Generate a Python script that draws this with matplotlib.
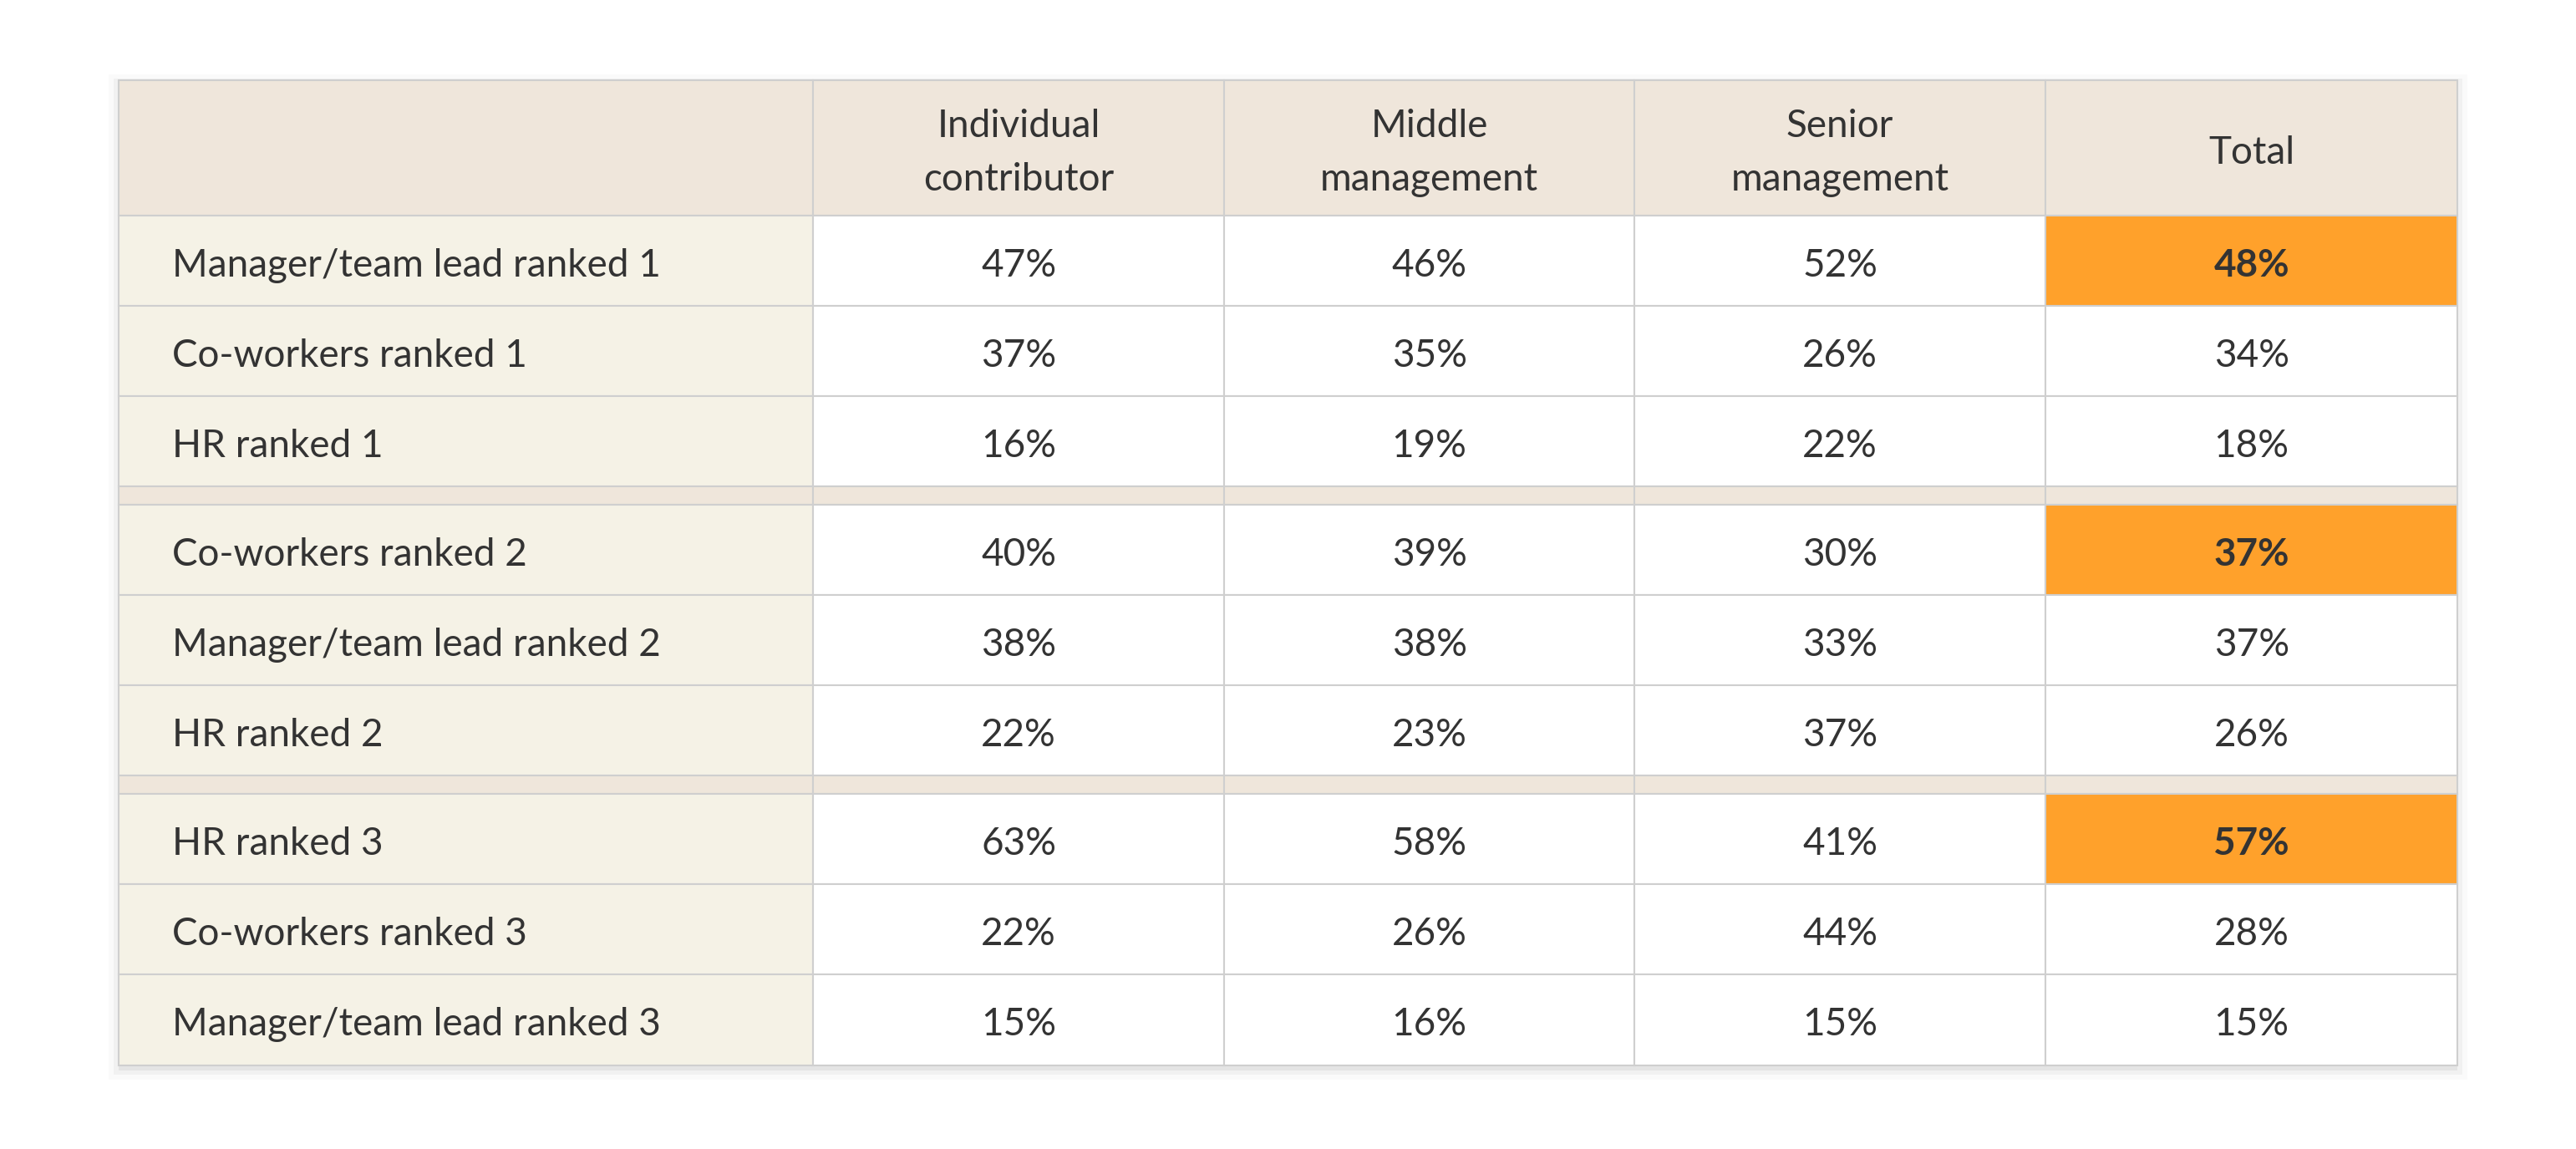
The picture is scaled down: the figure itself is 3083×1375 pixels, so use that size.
import matplotlib.pyplot as plt
from matplotlib.patches import Rectangle

columns = ['Individual\ncontributor', 'Middle\nmanagement', 'Senior\nmanagement', 'Total']
groups = [
    [('Manager/team lead ranked 1', [47, 46, 52, 48]),
     ('Co-workers ranked 1', [37, 35, 26, 34]),
     ('HR ranked 1', [16, 19, 22, 18])],
    [('Co-workers ranked 2', [40, 39, 30, 37]),
     ('Manager/team lead ranked 2', [38, 38, 33, 37]),
     ('HR ranked 2', [22, 23, 37, 26])],
    [('HR ranked 3', [63, 58, 41, 57]),
     ('Co-workers ranked 3', [22, 26, 44, 28]),
     ('Manager/team lead ranked 3', [15, 16, 15, 15])],
]

HEAD = '#EFE6DB'
LABEL_BG = '#F5F2E6'
ORANGE = '#FFA12B'
LINE = '#CFCFCF'
TXT = '#333333'
plt.rcParams['font.family'] = 'Lato'

fig = plt.figure(figsize=(30.83, 13.75), dpi=100)
ax = fig.add_axes([0, 0, 1, 1])
ax.set_xlim(0, 1568)
ax.set_ylim(699, 0)
ax.axis('off')

xs = [72, 495, 745, 995, 1245, 1496]
top, head_h, row_h, sep_h = 49, 82, 55, 11
fs = 33
dy = 3  # small downward nudge for text

def cell(x0, x1, y0, y1, color):
    ax.add_patch(Rectangle((x0, y0), x1 - x0, y1 - y0, facecolor=color,
                           edgecolor=LINE, linewidth=1.5))

# shadow
for i, a in enumerate([0.05, 0.035, 0.02]):
    d = 2 + i * 3
    ax.add_patch(Rectangle((xs[0] - d + 2, top - d + 4), xs[-1] - xs[0] + 2 * d - 4,
                           600 + 2 * d - 4, facecolor='black', alpha=a, linewidth=0, zorder=0))

for i in range(5):
    cell(xs[i], xs[i + 1], top, top + head_h, HEAD)
for j, c in enumerate(columns):
    ax.text((xs[j + 1] + xs[j + 2]) / 2, top + head_h / 2 + dy, c, ha='center', va='center',
            fontsize=fs, color=TXT, linespacing=1.65)

y = top + head_h
for g, rows in enumerate(groups):
    if g > 0:
        for i in range(5):
            cell(xs[i], xs[i + 1], y, y + sep_h, HEAD)
        y += sep_h
    best = max(range(len(rows)), key=lambda r: rows[r][1][3])
    for r, (label, vals) in enumerate(rows):
        cell(xs[0], xs[1], y, y + row_h, LABEL_BG)
        ax.text(xs[0] + 33, y + row_h / 2 + dy, label, ha='left', va='center', fontsize=fs, color=TXT)
        for j, v in enumerate(vals):
            hi = (j == 3 and r == best)
            cell(xs[j + 1], xs[j + 2], y, y + row_h, ORANGE if hi else 'white')
            ax.text((xs[j + 1] + xs[j + 2]) / 2, y + row_h / 2 + dy, f'{v}%', ha='center',
                    va='center', fontsize=fs, color=TXT, fontweight='bold' if hi else 'normal')
        y += row_h

fig.savefig('out.png', dpi=100, facecolor='white')
